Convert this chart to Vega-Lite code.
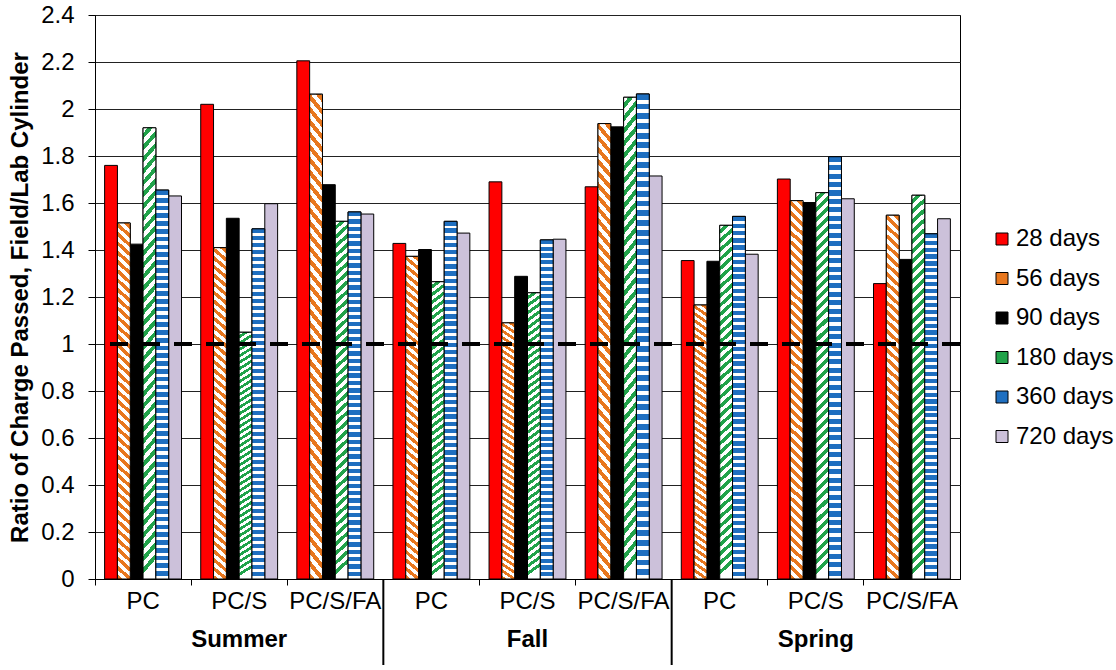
{
"$schema": "https://vega.github.io/schema/vega-lite/v6.json",
"width": 865,
"height": 564,
"autosize": {"type": "none"},
"padding": {"left": 95, "top": 15, "right": 156, "bottom": 91},
"config": {"font": "Liberation Sans", "view": {"stroke": "#000", "strokeWidth": 1}},
"datasets": {
"bars": [
{"group":"Summer|PC","age":"28 days","value":1.76},
{"group":"Summer|PC","age":"56 days","value":1.515},
{"group":"Summer|PC","age":"90 days","value":1.425},
{"group":"Summer|PC","age":"180 days","value":1.92},
{"group":"Summer|PC","age":"360 days","value":1.655},
{"group":"Summer|PC","age":"720 days","value":1.63},
{"group":"Summer|PC/S","age":"28 days","value":2.02},
{"group":"Summer|PC/S","age":"56 days","value":1.41},
{"group":"Summer|PC/S","age":"90 days","value":1.535},
{"group":"Summer|PC/S","age":"180 days","value":1.05},
{"group":"Summer|PC/S","age":"360 days","value":1.49},
{"group":"Summer|PC/S","age":"720 days","value":1.597},
{"group":"Summer|PC/S/FA","age":"28 days","value":2.205},
{"group":"Summer|PC/S/FA","age":"56 days","value":2.063},
{"group":"Summer|PC/S/FA","age":"90 days","value":1.678},
{"group":"Summer|PC/S/FA","age":"180 days","value":1.522},
{"group":"Summer|PC/S/FA","age":"360 days","value":1.562},
{"group":"Summer|PC/S/FA","age":"720 days","value":1.553},
{"group":"Fall|PC","age":"28 days","value":1.428},
{"group":"Fall|PC","age":"56 days","value":1.373},
{"group":"Fall|PC","age":"90 days","value":1.402},
{"group":"Fall|PC","age":"180 days","value":1.265},
{"group":"Fall|PC","age":"360 days","value":1.522},
{"group":"Fall|PC","age":"720 days","value":1.472},
{"group":"Fall|PC/S","age":"28 days","value":1.69},
{"group":"Fall|PC/S","age":"56 days","value":1.09},
{"group":"Fall|PC/S","age":"90 days","value":1.288},
{"group":"Fall|PC/S","age":"180 days","value":1.218},
{"group":"Fall|PC/S","age":"360 days","value":1.443},
{"group":"Fall|PC/S","age":"720 days","value":1.446},
{"group":"Fall|PC/S/FA","age":"28 days","value":1.669},
{"group":"Fall|PC/S/FA","age":"56 days","value":1.938},
{"group":"Fall|PC/S/FA","age":"90 days","value":1.924},
{"group":"Fall|PC/S/FA","age":"180 days","value":2.05},
{"group":"Fall|PC/S/FA","age":"360 days","value":2.064},
{"group":"Fall|PC/S/FA","age":"720 days","value":1.715},
{"group":"Spring|PC","age":"28 days","value":1.355},
{"group":"Spring|PC","age":"56 days","value":1.166},
{"group":"Spring|PC","age":"90 days","value":1.352},
{"group":"Spring|PC","age":"180 days","value":1.505},
{"group":"Spring|PC","age":"360 days","value":1.543},
{"group":"Spring|PC","age":"720 days","value":1.382},
{"group":"Spring|PC/S","age":"28 days","value":1.702},
{"group":"Spring|PC/S","age":"56 days","value":1.61},
{"group":"Spring|PC/S","age":"90 days","value":1.602},
{"group":"Spring|PC/S","age":"180 days","value":1.644},
{"group":"Spring|PC/S","age":"360 days","value":1.797},
{"group":"Spring|PC/S","age":"720 days","value":1.618},
{"group":"Spring|PC/S/FA","age":"28 days","value":1.257},
{"group":"Spring|PC/S/FA","age":"56 days","value":1.548},
{"group":"Spring|PC/S/FA","age":"90 days","value":1.36},
{"group":"Spring|PC/S/FA","age":"180 days","value":1.633},
{"group":"Spring|PC/S/FA","age":"360 days","value":1.469},
{"group":"Spring|PC/S/FA","age":"720 days","value":1.533}
],
"seps": [{"group":"Fall|PC"},{"group":"Spring|PC"}],
"seasons": [{"season":"Summer","group":"Summer|PC/S"},{"season":"Fall","group":"Fall|PC/S"},{"season":"Spring","group":"Spring|PC/S"}],
"one": [{"level":1}]
},
"data": {"name": "bars"},
"layer": [
{
"mark": {"type": "bar", "stroke": "#000", "strokeWidth": 1},
"encoding": {
"x": {"field": "group", "type": "nominal", "scale": {"domain": ["Summer|PC","Summer|PC/S","Summer|PC/S/FA","Fall|PC","Fall|PC/S","Fall|PC/S/FA","Spring|PC","Spring|PC/S","Spring|PC/S/FA"], "paddingInner": 0, "paddingOuter": 0},
 "axis": {"title": null, "labelExpr": "split(datum.value, '|')[1]", "labelAngle": 0, "labelFontSize": 24, "labelColor": "#000", "tickColor": "#000", "domainColor": "#000", "tickSize": 6, "labelPadding": 4, "bandPosition": 0}},
"xOffset": {"field": "age", "type": "nominal", "scale": {"domain": ["28 days","56 days","90 days","180 days","360 days","720 days"], "paddingInner": 0, "paddingOuter": 0.75}},
"y": {"field": "value", "type": "quantitative", "scale": {"domain": [0, 2.4], "nice": false},
 "axis": {"values": [0,0.2,0.4,0.6,0.8,1,1.2,1.4,1.6,1.8,2,2.2,2.4], "format": "~g", "grid": true, "gridColor": "#222", "gridWidth": 1, "tickSize": 7, "tickColor": "#000", "domainColor": "#000", "labelFontSize": 24, "labelColor": "#000", "labelPadding": 14, "title": "Ratio of Charge Passed, Field/Lab Cylinder", "titleFontSize": 24, "titleFontWeight": "bold", "titleColor": "#000", "titleX": -75, "titleY": 282, "titleBaseline": "middle"}},
"fill": {"field": "age", "type": "nominal",
 "scale": {"domain": ["28 days","56 days","90 days","180 days","360 days","720 days"],
  "range": ["#ff0000", "#e8771e", "#000000", "#21a34a", "#1f6fc0", "#ccc1da"]},
 "legend": {"title": null, "orient": "none", "legendX": 895, "legendY": 212, "symbolType": "square", "symbolSize": 144, "symbolStrokeColor": "#000", "symbolStrokeWidth": 1, "labelFontSize": 24, "labelColor": "#000", "rowPadding": 15.5, "labelOffset": 2}}
}
},
{
"transform": [{"filter": {"field": "age", "equal": "56 days"}}],
"mark": {"type": "bar", "stroke": "#000", "strokeWidth": 1, "fill": {"gradient":"linear","x1":0,"y1":1,"x2":0.034,"y2":-0.04,"stops":[
{"offset":0,"color":"#e8771e"},{"offset":0.0125,"color":"#e8771e"},{"offset":0.0125,"color":"#fff"},{"offset":0.025,"color":"#fff"},
{"offset":0.025,"color":"#e8771e"},{"offset":0.0375,"color":"#e8771e"},{"offset":0.0375,"color":"#fff"},{"offset":0.05,"color":"#fff"},
{"offset":0.05,"color":"#e8771e"},{"offset":0.0625,"color":"#e8771e"},{"offset":0.0625,"color":"#fff"},{"offset":0.075,"color":"#fff"},
{"offset":0.075,"color":"#e8771e"},{"offset":0.0875,"color":"#e8771e"},{"offset":0.0875,"color":"#fff"},{"offset":0.1,"color":"#fff"},
{"offset":0.1,"color":"#e8771e"},{"offset":0.1125,"color":"#e8771e"},{"offset":0.1125,"color":"#fff"},{"offset":0.125,"color":"#fff"},
{"offset":0.125,"color":"#e8771e"},{"offset":0.1375,"color":"#e8771e"},{"offset":0.1375,"color":"#fff"},{"offset":0.15,"color":"#fff"},
{"offset":0.15,"color":"#e8771e"},{"offset":0.1625,"color":"#e8771e"},{"offset":0.1625,"color":"#fff"},{"offset":0.175,"color":"#fff"},
{"offset":0.175,"color":"#e8771e"},{"offset":0.1875,"color":"#e8771e"},{"offset":0.1875,"color":"#fff"},{"offset":0.2,"color":"#fff"},
{"offset":0.2,"color":"#e8771e"},{"offset":0.2125,"color":"#e8771e"},{"offset":0.2125,"color":"#fff"},{"offset":0.225,"color":"#fff"},
{"offset":0.225,"color":"#e8771e"},{"offset":0.2375,"color":"#e8771e"},{"offset":0.2375,"color":"#fff"},{"offset":0.25,"color":"#fff"},
{"offset":0.25,"color":"#e8771e"},{"offset":0.2625,"color":"#e8771e"},{"offset":0.2625,"color":"#fff"},{"offset":0.275,"color":"#fff"},
{"offset":0.275,"color":"#e8771e"},{"offset":0.2875,"color":"#e8771e"},{"offset":0.2875,"color":"#fff"},{"offset":0.3,"color":"#fff"},
{"offset":0.3,"color":"#e8771e"},{"offset":0.3125,"color":"#e8771e"},{"offset":0.3125,"color":"#fff"},{"offset":0.325,"color":"#fff"},
{"offset":0.325,"color":"#e8771e"},{"offset":0.3375,"color":"#e8771e"},{"offset":0.3375,"color":"#fff"},{"offset":0.35,"color":"#fff"},
{"offset":0.35,"color":"#e8771e"},{"offset":0.3625,"color":"#e8771e"},{"offset":0.3625,"color":"#fff"},{"offset":0.375,"color":"#fff"},
{"offset":0.375,"color":"#e8771e"},{"offset":0.3875,"color":"#e8771e"},{"offset":0.3875,"color":"#fff"},{"offset":0.4,"color":"#fff"},
{"offset":0.4,"color":"#e8771e"},{"offset":0.4125,"color":"#e8771e"},{"offset":0.4125,"color":"#fff"},{"offset":0.425,"color":"#fff"},
{"offset":0.425,"color":"#e8771e"},{"offset":0.4375,"color":"#e8771e"},{"offset":0.4375,"color":"#fff"},{"offset":0.45,"color":"#fff"},
{"offset":0.45,"color":"#e8771e"},{"offset":0.4625,"color":"#e8771e"},{"offset":0.4625,"color":"#fff"},{"offset":0.475,"color":"#fff"},
{"offset":0.475,"color":"#e8771e"},{"offset":0.4875,"color":"#e8771e"},{"offset":0.4875,"color":"#fff"},{"offset":0.5,"color":"#fff"},
{"offset":0.5,"color":"#e8771e"},{"offset":0.5125,"color":"#e8771e"},{"offset":0.5125,"color":"#fff"},{"offset":0.525,"color":"#fff"},
{"offset":0.525,"color":"#e8771e"},{"offset":0.5375,"color":"#e8771e"},{"offset":0.5375,"color":"#fff"},{"offset":0.55,"color":"#fff"},
{"offset":0.55,"color":"#e8771e"},{"offset":0.5625,"color":"#e8771e"},{"offset":0.5625,"color":"#fff"},{"offset":0.575,"color":"#fff"},
{"offset":0.575,"color":"#e8771e"},{"offset":0.5875,"color":"#e8771e"},{"offset":0.5875,"color":"#fff"},{"offset":0.6,"color":"#fff"},
{"offset":0.6,"color":"#e8771e"},{"offset":0.6125,"color":"#e8771e"},{"offset":0.6125,"color":"#fff"},{"offset":0.625,"color":"#fff"},
{"offset":0.625,"color":"#e8771e"},{"offset":0.6375,"color":"#e8771e"},{"offset":0.6375,"color":"#fff"},{"offset":0.65,"color":"#fff"},
{"offset":0.65,"color":"#e8771e"},{"offset":0.6625,"color":"#e8771e"},{"offset":0.6625,"color":"#fff"},{"offset":0.675,"color":"#fff"},
{"offset":0.675,"color":"#e8771e"},{"offset":0.6875,"color":"#e8771e"},{"offset":0.6875,"color":"#fff"},{"offset":0.7,"color":"#fff"},
{"offset":0.7,"color":"#e8771e"},{"offset":0.7125,"color":"#e8771e"},{"offset":0.7125,"color":"#fff"},{"offset":0.725,"color":"#fff"},
{"offset":0.725,"color":"#e8771e"},{"offset":0.7375,"color":"#e8771e"},{"offset":0.7375,"color":"#fff"},{"offset":0.75,"color":"#fff"},
{"offset":0.75,"color":"#e8771e"},{"offset":0.7625,"color":"#e8771e"},{"offset":0.7625,"color":"#fff"},{"offset":0.775,"color":"#fff"},
{"offset":0.775,"color":"#e8771e"},{"offset":0.7875,"color":"#e8771e"},{"offset":0.7875,"color":"#fff"},{"offset":0.8,"color":"#fff"},
{"offset":0.8,"color":"#e8771e"},{"offset":0.8125,"color":"#e8771e"},{"offset":0.8125,"color":"#fff"},{"offset":0.825,"color":"#fff"},
{"offset":0.825,"color":"#e8771e"},{"offset":0.8375,"color":"#e8771e"},{"offset":0.8375,"color":"#fff"},{"offset":0.85,"color":"#fff"},
{"offset":0.85,"color":"#e8771e"},{"offset":0.8625,"color":"#e8771e"},{"offset":0.8625,"color":"#fff"},{"offset":0.875,"color":"#fff"},
{"offset":0.875,"color":"#e8771e"},{"offset":0.8875,"color":"#e8771e"},{"offset":0.8875,"color":"#fff"},{"offset":0.9,"color":"#fff"},
{"offset":0.9,"color":"#e8771e"},{"offset":0.9125,"color":"#e8771e"},{"offset":0.9125,"color":"#fff"},{"offset":0.925,"color":"#fff"},
{"offset":0.925,"color":"#e8771e"},{"offset":0.9375,"color":"#e8771e"},{"offset":0.9375,"color":"#fff"},{"offset":0.95,"color":"#fff"},
{"offset":0.95,"color":"#e8771e"},{"offset":0.9625,"color":"#e8771e"},{"offset":0.9625,"color":"#fff"},{"offset":0.975,"color":"#fff"},
{"offset":0.975,"color":"#e8771e"},{"offset":0.9875,"color":"#e8771e"},{"offset":0.9875,"color":"#fff"},{"offset":1,"color":"#fff"}
]}},
"encoding": {
"x": {"field": "group", "type": "nominal"},
"xOffset": {"field": "age", "type": "nominal"},
"y": {"field": "value", "type": "quantitative"}
}
},
{
"transform": [{"filter": {"field": "age", "equal": "180 days"}}],
"mark": {"type": "bar", "stroke": "#000", "strokeWidth": 1, "fill": {"gradient":"linear","x1":0,"y1":-0.04,"x2":0.034,"y2":1,"stops":[
{"offset":0,"color":"#21a34a"},{"offset":0.0125,"color":"#21a34a"},{"offset":0.0125,"color":"#fff"},{"offset":0.025,"color":"#fff"},
{"offset":0.025,"color":"#21a34a"},{"offset":0.0375,"color":"#21a34a"},{"offset":0.0375,"color":"#fff"},{"offset":0.05,"color":"#fff"},
{"offset":0.05,"color":"#21a34a"},{"offset":0.0625,"color":"#21a34a"},{"offset":0.0625,"color":"#fff"},{"offset":0.075,"color":"#fff"},
{"offset":0.075,"color":"#21a34a"},{"offset":0.0875,"color":"#21a34a"},{"offset":0.0875,"color":"#fff"},{"offset":0.1,"color":"#fff"},
{"offset":0.1,"color":"#21a34a"},{"offset":0.1125,"color":"#21a34a"},{"offset":0.1125,"color":"#fff"},{"offset":0.125,"color":"#fff"},
{"offset":0.125,"color":"#21a34a"},{"offset":0.1375,"color":"#21a34a"},{"offset":0.1375,"color":"#fff"},{"offset":0.15,"color":"#fff"},
{"offset":0.15,"color":"#21a34a"},{"offset":0.1625,"color":"#21a34a"},{"offset":0.1625,"color":"#fff"},{"offset":0.175,"color":"#fff"},
{"offset":0.175,"color":"#21a34a"},{"offset":0.1875,"color":"#21a34a"},{"offset":0.1875,"color":"#fff"},{"offset":0.2,"color":"#fff"},
{"offset":0.2,"color":"#21a34a"},{"offset":0.2125,"color":"#21a34a"},{"offset":0.2125,"color":"#fff"},{"offset":0.225,"color":"#fff"},
{"offset":0.225,"color":"#21a34a"},{"offset":0.2375,"color":"#21a34a"},{"offset":0.2375,"color":"#fff"},{"offset":0.25,"color":"#fff"},
{"offset":0.25,"color":"#21a34a"},{"offset":0.2625,"color":"#21a34a"},{"offset":0.2625,"color":"#fff"},{"offset":0.275,"color":"#fff"},
{"offset":0.275,"color":"#21a34a"},{"offset":0.2875,"color":"#21a34a"},{"offset":0.2875,"color":"#fff"},{"offset":0.3,"color":"#fff"},
{"offset":0.3,"color":"#21a34a"},{"offset":0.3125,"color":"#21a34a"},{"offset":0.3125,"color":"#fff"},{"offset":0.325,"color":"#fff"},
{"offset":0.325,"color":"#21a34a"},{"offset":0.3375,"color":"#21a34a"},{"offset":0.3375,"color":"#fff"},{"offset":0.35,"color":"#fff"},
{"offset":0.35,"color":"#21a34a"},{"offset":0.3625,"color":"#21a34a"},{"offset":0.3625,"color":"#fff"},{"offset":0.375,"color":"#fff"},
{"offset":0.375,"color":"#21a34a"},{"offset":0.3875,"color":"#21a34a"},{"offset":0.3875,"color":"#fff"},{"offset":0.4,"color":"#fff"},
{"offset":0.4,"color":"#21a34a"},{"offset":0.4125,"color":"#21a34a"},{"offset":0.4125,"color":"#fff"},{"offset":0.425,"color":"#fff"},
{"offset":0.425,"color":"#21a34a"},{"offset":0.4375,"color":"#21a34a"},{"offset":0.4375,"color":"#fff"},{"offset":0.45,"color":"#fff"},
{"offset":0.45,"color":"#21a34a"},{"offset":0.4625,"color":"#21a34a"},{"offset":0.4625,"color":"#fff"},{"offset":0.475,"color":"#fff"},
{"offset":0.475,"color":"#21a34a"},{"offset":0.4875,"color":"#21a34a"},{"offset":0.4875,"color":"#fff"},{"offset":0.5,"color":"#fff"},
{"offset":0.5,"color":"#21a34a"},{"offset":0.5125,"color":"#21a34a"},{"offset":0.5125,"color":"#fff"},{"offset":0.525,"color":"#fff"},
{"offset":0.525,"color":"#21a34a"},{"offset":0.5375,"color":"#21a34a"},{"offset":0.5375,"color":"#fff"},{"offset":0.55,"color":"#fff"},
{"offset":0.55,"color":"#21a34a"},{"offset":0.5625,"color":"#21a34a"},{"offset":0.5625,"color":"#fff"},{"offset":0.575,"color":"#fff"},
{"offset":0.575,"color":"#21a34a"},{"offset":0.5875,"color":"#21a34a"},{"offset":0.5875,"color":"#fff"},{"offset":0.6,"color":"#fff"},
{"offset":0.6,"color":"#21a34a"},{"offset":0.6125,"color":"#21a34a"},{"offset":0.6125,"color":"#fff"},{"offset":0.625,"color":"#fff"},
{"offset":0.625,"color":"#21a34a"},{"offset":0.6375,"color":"#21a34a"},{"offset":0.6375,"color":"#fff"},{"offset":0.65,"color":"#fff"},
{"offset":0.65,"color":"#21a34a"},{"offset":0.6625,"color":"#21a34a"},{"offset":0.6625,"color":"#fff"},{"offset":0.675,"color":"#fff"},
{"offset":0.675,"color":"#21a34a"},{"offset":0.6875,"color":"#21a34a"},{"offset":0.6875,"color":"#fff"},{"offset":0.7,"color":"#fff"},
{"offset":0.7,"color":"#21a34a"},{"offset":0.7125,"color":"#21a34a"},{"offset":0.7125,"color":"#fff"},{"offset":0.725,"color":"#fff"},
{"offset":0.725,"color":"#21a34a"},{"offset":0.7375,"color":"#21a34a"},{"offset":0.7375,"color":"#fff"},{"offset":0.75,"color":"#fff"},
{"offset":0.75,"color":"#21a34a"},{"offset":0.7625,"color":"#21a34a"},{"offset":0.7625,"color":"#fff"},{"offset":0.775,"color":"#fff"},
{"offset":0.775,"color":"#21a34a"},{"offset":0.7875,"color":"#21a34a"},{"offset":0.7875,"color":"#fff"},{"offset":0.8,"color":"#fff"},
{"offset":0.8,"color":"#21a34a"},{"offset":0.8125,"color":"#21a34a"},{"offset":0.8125,"color":"#fff"},{"offset":0.825,"color":"#fff"},
{"offset":0.825,"color":"#21a34a"},{"offset":0.8375,"color":"#21a34a"},{"offset":0.8375,"color":"#fff"},{"offset":0.85,"color":"#fff"},
{"offset":0.85,"color":"#21a34a"},{"offset":0.8625,"color":"#21a34a"},{"offset":0.8625,"color":"#fff"},{"offset":0.875,"color":"#fff"},
{"offset":0.875,"color":"#21a34a"},{"offset":0.8875,"color":"#21a34a"},{"offset":0.8875,"color":"#fff"},{"offset":0.9,"color":"#fff"},
{"offset":0.9,"color":"#21a34a"},{"offset":0.9125,"color":"#21a34a"},{"offset":0.9125,"color":"#fff"},{"offset":0.925,"color":"#fff"},
{"offset":0.925,"color":"#21a34a"},{"offset":0.9375,"color":"#21a34a"},{"offset":0.9375,"color":"#fff"},{"offset":0.95,"color":"#fff"},
{"offset":0.95,"color":"#21a34a"},{"offset":0.9625,"color":"#21a34a"},{"offset":0.9625,"color":"#fff"},{"offset":0.975,"color":"#fff"},
{"offset":0.975,"color":"#21a34a"},{"offset":0.9875,"color":"#21a34a"},{"offset":0.9875,"color":"#fff"},{"offset":1,"color":"#fff"}
]}},
"encoding": {
"x": {"field": "group", "type": "nominal"},
"xOffset": {"field": "age", "type": "nominal"},
"y": {"field": "value", "type": "quantitative"}
}
},
{
"transform": [{"filter": {"field": "age", "equal": "360 days"}}],
"mark": {"type": "bar", "stroke": "#000", "strokeWidth": 1, "fill": {"gradient":"linear","x1":0,"y1":0,"x2":0,"y2":1,"stops":[
{"offset":0,"color":"#1f6fc0"},{"offset":0.012,"color":"#1f6fc0"},{"offset":0.012,"color":"#fff"},{"offset":0.02,"color":"#fff"},
{"offset":0.02,"color":"#1f6fc0"},{"offset":0.032,"color":"#1f6fc0"},{"offset":0.032,"color":"#fff"},{"offset":0.04,"color":"#fff"},
{"offset":0.04,"color":"#1f6fc0"},{"offset":0.052,"color":"#1f6fc0"},{"offset":0.052,"color":"#fff"},{"offset":0.06,"color":"#fff"},
{"offset":0.06,"color":"#1f6fc0"},{"offset":0.072,"color":"#1f6fc0"},{"offset":0.072,"color":"#fff"},{"offset":0.08,"color":"#fff"},
{"offset":0.08,"color":"#1f6fc0"},{"offset":0.092,"color":"#1f6fc0"},{"offset":0.092,"color":"#fff"},{"offset":0.1,"color":"#fff"},
{"offset":0.1,"color":"#1f6fc0"},{"offset":0.112,"color":"#1f6fc0"},{"offset":0.112,"color":"#fff"},{"offset":0.12,"color":"#fff"},
{"offset":0.12,"color":"#1f6fc0"},{"offset":0.132,"color":"#1f6fc0"},{"offset":0.132,"color":"#fff"},{"offset":0.14,"color":"#fff"},
{"offset":0.14,"color":"#1f6fc0"},{"offset":0.152,"color":"#1f6fc0"},{"offset":0.152,"color":"#fff"},{"offset":0.16,"color":"#fff"},
{"offset":0.16,"color":"#1f6fc0"},{"offset":0.172,"color":"#1f6fc0"},{"offset":0.172,"color":"#fff"},{"offset":0.18,"color":"#fff"},
{"offset":0.18,"color":"#1f6fc0"},{"offset":0.192,"color":"#1f6fc0"},{"offset":0.192,"color":"#fff"},{"offset":0.2,"color":"#fff"},
{"offset":0.2,"color":"#1f6fc0"},{"offset":0.212,"color":"#1f6fc0"},{"offset":0.212,"color":"#fff"},{"offset":0.22,"color":"#fff"},
{"offset":0.22,"color":"#1f6fc0"},{"offset":0.232,"color":"#1f6fc0"},{"offset":0.232,"color":"#fff"},{"offset":0.24,"color":"#fff"},
{"offset":0.24,"color":"#1f6fc0"},{"offset":0.252,"color":"#1f6fc0"},{"offset":0.252,"color":"#fff"},{"offset":0.26,"color":"#fff"},
{"offset":0.26,"color":"#1f6fc0"},{"offset":0.272,"color":"#1f6fc0"},{"offset":0.272,"color":"#fff"},{"offset":0.28,"color":"#fff"},
{"offset":0.28,"color":"#1f6fc0"},{"offset":0.292,"color":"#1f6fc0"},{"offset":0.292,"color":"#fff"},{"offset":0.3,"color":"#fff"},
{"offset":0.3,"color":"#1f6fc0"},{"offset":0.312,"color":"#1f6fc0"},{"offset":0.312,"color":"#fff"},{"offset":0.32,"color":"#fff"},
{"offset":0.32,"color":"#1f6fc0"},{"offset":0.332,"color":"#1f6fc0"},{"offset":0.332,"color":"#fff"},{"offset":0.34,"color":"#fff"},
{"offset":0.34,"color":"#1f6fc0"},{"offset":0.352,"color":"#1f6fc0"},{"offset":0.352,"color":"#fff"},{"offset":0.36,"color":"#fff"},
{"offset":0.36,"color":"#1f6fc0"},{"offset":0.372,"color":"#1f6fc0"},{"offset":0.372,"color":"#fff"},{"offset":0.38,"color":"#fff"},
{"offset":0.38,"color":"#1f6fc0"},{"offset":0.392,"color":"#1f6fc0"},{"offset":0.392,"color":"#fff"},{"offset":0.4,"color":"#fff"},
{"offset":0.4,"color":"#1f6fc0"},{"offset":0.412,"color":"#1f6fc0"},{"offset":0.412,"color":"#fff"},{"offset":0.42,"color":"#fff"},
{"offset":0.42,"color":"#1f6fc0"},{"offset":0.432,"color":"#1f6fc0"},{"offset":0.432,"color":"#fff"},{"offset":0.44,"color":"#fff"},
{"offset":0.44,"color":"#1f6fc0"},{"offset":0.452,"color":"#1f6fc0"},{"offset":0.452,"color":"#fff"},{"offset":0.46,"color":"#fff"},
{"offset":0.46,"color":"#1f6fc0"},{"offset":0.472,"color":"#1f6fc0"},{"offset":0.472,"color":"#fff"},{"offset":0.48,"color":"#fff"},
{"offset":0.48,"color":"#1f6fc0"},{"offset":0.492,"color":"#1f6fc0"},{"offset":0.492,"color":"#fff"},{"offset":0.5,"color":"#fff"},
{"offset":0.5,"color":"#1f6fc0"},{"offset":0.512,"color":"#1f6fc0"},{"offset":0.512,"color":"#fff"},{"offset":0.52,"color":"#fff"},
{"offset":0.52,"color":"#1f6fc0"},{"offset":0.532,"color":"#1f6fc0"},{"offset":0.532,"color":"#fff"},{"offset":0.54,"color":"#fff"},
{"offset":0.54,"color":"#1f6fc0"},{"offset":0.552,"color":"#1f6fc0"},{"offset":0.552,"color":"#fff"},{"offset":0.56,"color":"#fff"},
{"offset":0.56,"color":"#1f6fc0"},{"offset":0.572,"color":"#1f6fc0"},{"offset":0.572,"color":"#fff"},{"offset":0.58,"color":"#fff"},
{"offset":0.58,"color":"#1f6fc0"},{"offset":0.592,"color":"#1f6fc0"},{"offset":0.592,"color":"#fff"},{"offset":0.6,"color":"#fff"},
{"offset":0.6,"color":"#1f6fc0"},{"offset":0.612,"color":"#1f6fc0"},{"offset":0.612,"color":"#fff"},{"offset":0.62,"color":"#fff"},
{"offset":0.62,"color":"#1f6fc0"},{"offset":0.632,"color":"#1f6fc0"},{"offset":0.632,"color":"#fff"},{"offset":0.64,"color":"#fff"},
{"offset":0.64,"color":"#1f6fc0"},{"offset":0.652,"color":"#1f6fc0"},{"offset":0.652,"color":"#fff"},{"offset":0.66,"color":"#fff"},
{"offset":0.66,"color":"#1f6fc0"},{"offset":0.672,"color":"#1f6fc0"},{"offset":0.672,"color":"#fff"},{"offset":0.68,"color":"#fff"},
{"offset":0.68,"color":"#1f6fc0"},{"offset":0.692,"color":"#1f6fc0"},{"offset":0.692,"color":"#fff"},{"offset":0.7,"color":"#fff"},
{"offset":0.7,"color":"#1f6fc0"},{"offset":0.712,"color":"#1f6fc0"},{"offset":0.712,"color":"#fff"},{"offset":0.72,"color":"#fff"},
{"offset":0.72,"color":"#1f6fc0"},{"offset":0.732,"color":"#1f6fc0"},{"offset":0.732,"color":"#fff"},{"offset":0.74,"color":"#fff"},
{"offset":0.74,"color":"#1f6fc0"},{"offset":0.752,"color":"#1f6fc0"},{"offset":0.752,"color":"#fff"},{"offset":0.76,"color":"#fff"},
{"offset":0.76,"color":"#1f6fc0"},{"offset":0.772,"color":"#1f6fc0"},{"offset":0.772,"color":"#fff"},{"offset":0.78,"color":"#fff"},
{"offset":0.78,"color":"#1f6fc0"},{"offset":0.792,"color":"#1f6fc0"},{"offset":0.792,"color":"#fff"},{"offset":0.8,"color":"#fff"},
{"offset":0.8,"color":"#1f6fc0"},{"offset":0.812,"color":"#1f6fc0"},{"offset":0.812,"color":"#fff"},{"offset":0.82,"color":"#fff"},
{"offset":0.82,"color":"#1f6fc0"},{"offset":0.832,"color":"#1f6fc0"},{"offset":0.832,"color":"#fff"},{"offset":0.84,"color":"#fff"},
{"offset":0.84,"color":"#1f6fc0"},{"offset":0.852,"color":"#1f6fc0"},{"offset":0.852,"color":"#fff"},{"offset":0.86,"color":"#fff"},
{"offset":0.86,"color":"#1f6fc0"},{"offset":0.872,"color":"#1f6fc0"},{"offset":0.872,"color":"#fff"},{"offset":0.88,"color":"#fff"},
{"offset":0.88,"color":"#1f6fc0"},{"offset":0.892,"color":"#1f6fc0"},{"offset":0.892,"color":"#fff"},{"offset":0.9,"color":"#fff"},
{"offset":0.9,"color":"#1f6fc0"},{"offset":0.912,"color":"#1f6fc0"},{"offset":0.912,"color":"#fff"},{"offset":0.92,"color":"#fff"},
{"offset":0.92,"color":"#1f6fc0"},{"offset":0.932,"color":"#1f6fc0"},{"offset":0.932,"color":"#fff"},{"offset":0.94,"color":"#fff"},
{"offset":0.94,"color":"#1f6fc0"},{"offset":0.952,"color":"#1f6fc0"},{"offset":0.952,"color":"#fff"},{"offset":0.96,"color":"#fff"},
{"offset":0.96,"color":"#1f6fc0"},{"offset":0.972,"color":"#1f6fc0"},{"offset":0.972,"color":"#fff"},{"offset":0.98,"color":"#fff"},
{"offset":0.98,"color":"#1f6fc0"},{"offset":0.992,"color":"#1f6fc0"},{"offset":0.992,"color":"#fff"},{"offset":1,"color":"#fff"}
]}},
"encoding": {
"x": {"field": "group", "type": "nominal"},
"xOffset": {"field": "age", "type": "nominal"},
"y": {"field": "value", "type": "quantitative"}
}
},
{
"data": {"name": "one"},
"mark": {"type": "rule", "color": "#000", "strokeWidth": 4, "strokeDash": [18, 14]},
"encoding": {"y": {"datum": 1, "type": "quantitative"}}
},
{
"data": {"name": "seps"},
"mark": {"type": "rule", "color": "#000", "strokeWidth": 2},
"encoding": {
"x": {"field": "group", "type": "nominal", "bandPosition": 0},
"y": {"datum": 0, "type": "quantitative"},
"y2": {"datum": -0.366}
}
},
{
"data": {"name": "seasons"},
"mark": {"type": "text", "fontWeight": "bold", "fontSize": 24, "baseline": "middle", "color": "#000"},
"encoding": {
"x": {"field": "group", "type": "nominal"},
"y": {"datum": -0.26, "type": "quantitative"},
"text": {"field": "season"}
}
}
]
}
